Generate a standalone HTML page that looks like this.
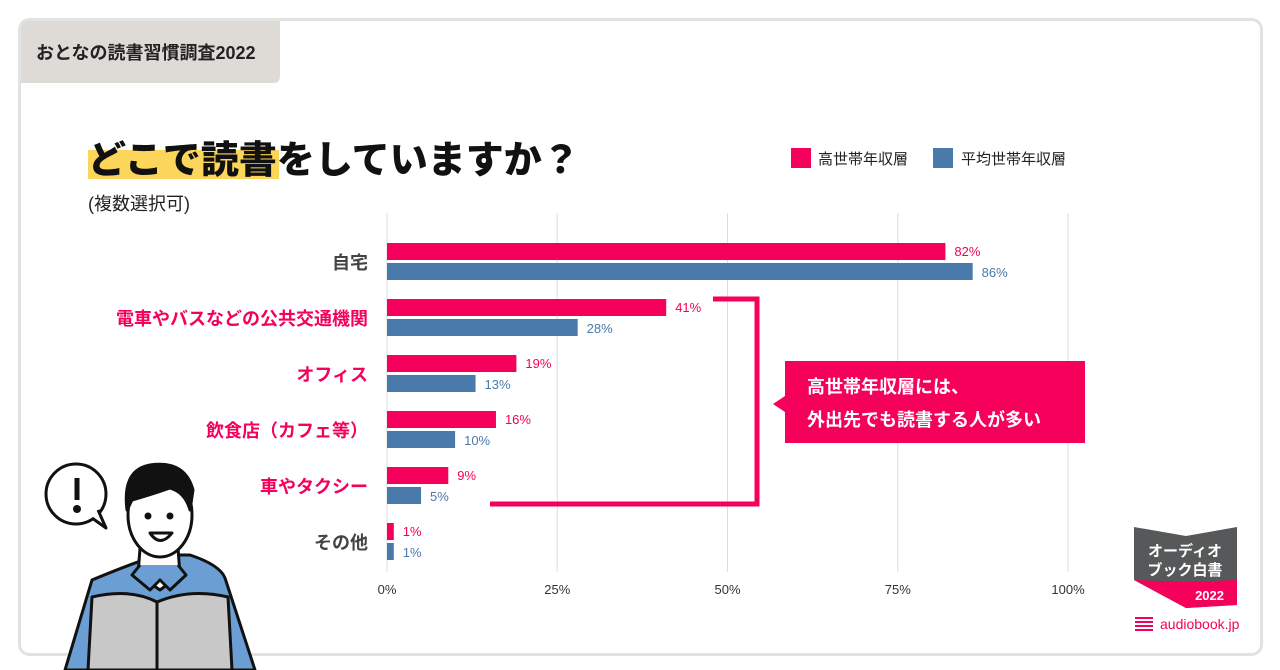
<!DOCTYPE html>
<html><head><meta charset="utf-8">
<style>
body{margin:0;width:1280px;height:670px;background:#fff;overflow:hidden;font-family:"Liberation Sans","Noto Sans CJK JP",sans-serif;}
svg{display:block}
</style></head>
<body>
<svg id="chart" width="1280" height="670" xmlns="http://www.w3.org/2000/svg" font-family="Liberation Sans, Noto Sans CJK JP, sans-serif">
  <rect x="19.5" y="19.5" width="1242" height="635" rx="10" fill="#fff" stroke="#e2e2e2" stroke-width="3"/>
  <path d="M21 30 Q21 21 30 21 L280 21 L280 76 Q280 83 273 83 L21 83 Z" fill="#dedbd6"/>
  <text x="36" y="59" font-size="18" font-weight="700" fill="#222">おとなの読書習慣調査2022</text>
  <rect x="88" y="150" width="191" height="29" fill="#fcd55b"/>
  <text x="88" y="173" font-size="38" font-weight="900" fill="#111">どこで読書をしていますか？</text>
  <text x="88" y="210" font-size="18" fill="#222">(複数選択可)</text>
  <g>
    <rect x="791" y="148" width="20" height="20" fill="#f5005a"/>
    <text x="818" y="164" font-size="15" fill="#222">高世帯年収層</text>
    <rect x="933" y="148" width="20" height="20" fill="#4a7aab"/>
    <text x="961" y="164" font-size="15" fill="#222">平均世帯年収層</text>
  </g>
  <g id="grid"></g>
  <g id="bars"></g>
  <g>
    <path d="M713 299 L757 299 L757 504 L490 504" fill="none" stroke="#f5005a" stroke-width="5"/>
    <path d="M785 361 L1085 361 L1085 443 L785 443 L785 412 L773 404 L785 396 Z" fill="#f5005a"/>
    <text x="807" y="393" font-size="18" font-weight="700" fill="#fff">高世帯年収層には、</text>
    <text x="807" y="426" font-size="18" font-weight="700" fill="#fff">外出先でも読書する人が多い</text>
  </g>
  <g stroke="#111" stroke-width="3" stroke-linejoin="round">
    <circle cx="76" cy="494" r="30" fill="#fff"/>
    <path d="M92 518 L106 528 L98 510" fill="#fff"/>
    <line x1="77" y1="478" x2="77" y2="500" stroke-width="5"/>
    <circle cx="77" cy="509" r="2.5" fill="#111"/>
    <path d="M65 670 L92 580 Q140 560 160 555 L190 555 Q220 565 225 578 L255 670 Z" fill="#6b9fd4"/>
    <path d="M140 548 L138 575 L160 590 L180 575 L178 548 Z" fill="#fff"/>
    <path d="M140 565 L132 575 L150 590 L160 580 L170 590 L186 575 L178 565" fill="#6b9fd4"/>
    <ellipse cx="160" cy="515" rx="32" ry="42" fill="#fff"/>
    <path d="M127 510 Q122 470 150 465 Q185 460 193 490 L190 510 Q185 492 170 488 Q150 495 132 500 Z" fill="#111"/>
    <path d="M150 533 Q160 548 172 533 Z" fill="#fff"/>
    <circle cx="148" cy="516" r="2" fill="#111"/><circle cx="170" cy="516" r="2" fill="#111"/>
    <path d="M92 597 Q130 588 157 602 Q190 588 228 597 L232 670 L88 670 Z" fill="#c8c8c8"/>
    <line x1="157" y1="602" x2="157" y2="670"/>
  </g>
  <g>
    <path d="M1134 527 L1186 536 L1237 527 L1237 605 L1186 608 L1134 580 Z" fill="#575859"/>
    <path d="M1134 580 L1186 608 L1237 605 L1237 580 L1186 582 Z" fill="#f5005a"/>
    <text x="1185" y="556" font-size="15" font-weight="700" fill="#fff" text-anchor="middle">オーディオ</text>
    <text x="1185" y="575" font-size="15" font-weight="700" fill="#fff" text-anchor="middle">ブック白書</text>
    <text x="1224" y="600" font-size="13" font-weight="700" fill="#fff" text-anchor="end">2022</text>
    <text x="1160" y="629" font-size="14" fill="#f5005a">audiobook.jp</text>
    <path d="M1135 618 h18 M1135 622 h18 M1135 626 h18 M1135 630 h18" stroke="#f5005a" stroke-width="2"/>
  </g>
</svg>
<script>
const categories=["自宅","電車やバスなどの公共交通機関","オフィス","飲食店（カフェ等）","車やタクシー","その他"];
const highIncome=[82,41,19,16,9,1];
const avgIncome=[86,28,13,10,5,1];
const ticks=[0,25,50,75,100];
const labelColors=["#444","#f5005a","#f5005a","#f5005a","#f5005a","#444"];
const NS="http://www.w3.org/2000/svg";
const x0=387,x1=1068,yTop=213,yBot=572,row0=262,rowStep=56;
const xs=v=>x0+(x1-x0)*v/100;
const yc=i=>row0+i*rowStep;
function mk(tag,attrs,parent,txt){const e=document.createElementNS(NS,tag);for(const k in attrs)e.setAttribute(k,attrs[k]);if(txt!==undefined)e.textContent=txt;parent.appendChild(e);return e;}
const grid=document.getElementById('grid'),bars=document.getElementById('bars');
ticks.forEach(t=>{
  const l=mk('line',{x1:xs(t),x2:xs(t),y1:yTop,y2:yBot,stroke:'#ddd','stroke-width':1},grid);
  
  
  const tx=mk('text',{x:xs(t),y:594,'font-size':13,fill:'#333','text-anchor':'middle'},grid,t+'%');
  
  
});
categories.forEach((c,i)=>{
  const lb=mk('text',{x:368,y:yc(i)+7,'font-size':18,'font-weight':700,fill:labelColors[i],'text-anchor':'end'},bars,c);
  
  
  const b1=mk('rect',{x:x0,y:yc(i)-19,width:xs(highIncome[i])-x0,height:17,fill:'#f5005a'},bars);
  
  
  const v1=mk('text',{x:xs(highIncome[i])+9,y:yc(i)-6,'font-size':13,fill:'#f5005a'},bars,highIncome[i]+'%');
  
  
  const b2=mk('rect',{x:x0,y:yc(i)+1,width:xs(avgIncome[i])-x0,height:17,fill:'#4a7aab'},bars);
  
  
  const v2=mk('text',{x:xs(avgIncome[i])+9,y:yc(i)+15,'font-size':13,fill:'#4a7aab'},bars,avgIncome[i]+'%');
  
  
});
</script>
</body></html>
